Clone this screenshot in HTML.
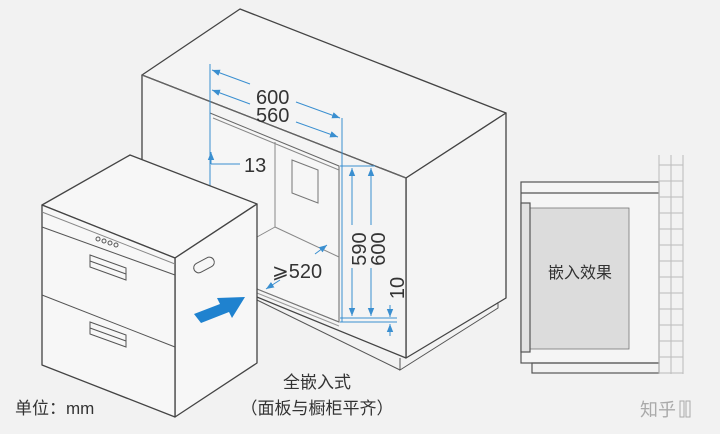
<!DOCTYPE html>
<html><head><meta charset="utf-8"><style>
html,body{margin:0;padding:0;background:#f2f2f2;}
svg{display:block;}
text{font-family:"Liberation Sans","Noto Sans CJK SC",sans-serif;}
</style></head><body>
<svg width="720" height="434" viewBox="0 0 720 434" xmlns="http://www.w3.org/2000/svg">
<rect width="720" height="434" fill="#f2f2f2"/>
<defs>
<marker id="ar" viewBox="0 0 10 10" refX="10" refY="5" markerWidth="8" markerHeight="8" orient="auto-start-reverse"><path d="M0,1 L10,5 L0,9 z" fill="#3a8fd0"/></marker>
</defs>
<g fill="#f4f4f4" stroke="#444" stroke-width="1.3" stroke-linejoin="round">
<polygon points="142,75 240,9 506,113 406,178"/>
<polygon points="406,178 506,113 506,298 406,358"/>
<polygon points="142,75 406,178 406,358 142,250"/>
</g>
<g fill="none" stroke="#555" stroke-width="1">
<polyline points="498,302 498,308 400,370 400,358"/>
<line x1="257" y1="300" x2="400" y2="370"/>
<line x1="142" y1="75" x2="406" y2="178" stroke="#666"/>
<polygon points="210,113 339,166 339,322 210,270" fill="#f6f6f6" stroke="#666"/>
<line x1="213" y1="118" x2="339" y2="170" stroke="#888"/>
<line x1="275" y1="142" x2="275" y2="227" stroke="#888"/>
<line x1="275" y1="227" x2="339" y2="257" stroke="#888"/>
<line x1="275" y1="227" x2="257" y2="237" stroke="#888"/>
<polygon points="292,160 318,170 318,203 292,193" stroke="#777"/>
<line x1="257" y1="289" x2="339" y2="322" stroke="#777"/>
<line x1="257" y1="293" x2="339" y2="326" stroke="#999"/>
</g>
<g stroke="#3a8fd0" stroke-width="1" fill="none">
<line x1="210" y1="64" x2="210" y2="185"/>
<line x1="342" y1="118" x2="342" y2="322"/>
<line x1="340" y1="166" x2="375" y2="166"/>
<line x1="340" y1="318" x2="397" y2="318"/>
<line x1="340" y1="322" x2="397" y2="322"/>
<line x1="212" y1="70" x2="250" y2="84" marker-start="url(#ar)"/>
<line x1="296" y1="102" x2="340" y2="118" marker-end="url(#ar)"/>
<line x1="212" y1="90" x2="250" y2="104" marker-start="url(#ar)"/>
<line x1="296" y1="122" x2="338" y2="137" marker-end="url(#ar)"/>
<line x1="211" y1="152" x2="211" y2="164" marker-start="url(#ar)"/>
<line x1="211" y1="164" x2="240" y2="164"/>
<line x1="352" y1="168" x2="352" y2="225" marker-start="url(#ar)"/>
<line x1="352" y1="268" x2="352" y2="316" marker-end="url(#ar)"/>
<line x1="371" y1="168" x2="371" y2="225" marker-start="url(#ar)"/>
<line x1="371" y1="268" x2="371" y2="316" marker-end="url(#ar)"/>
<line x1="390" y1="305" x2="390" y2="317" marker-end="url(#ar)"/>
<line x1="390" y1="336" x2="390" y2="324" marker-end="url(#ar)"/>
<line x1="266" y1="289" x2="280" y2="280" marker-start="url(#ar)"/>
<line x1="315" y1="254" x2="327" y2="245" marker-end="url(#ar)"/>
</g>
<g fill="#333" font-size="20">
<text x="256" y="104">600</text>
<text x="256" y="122">560</text>
<text x="244" y="172">13</text>
<text x="272" y="278">⩾520</text>
<text transform="translate(366,249) rotate(-90)" text-anchor="middle">590</text>
<text transform="translate(385,249) rotate(-90)" text-anchor="middle">600</text>
<text transform="translate(404,288) rotate(-90)" text-anchor="middle">10</text>
</g>
<g fill="#f7f7f7" stroke="#444" stroke-width="1.3" stroke-linejoin="round">
<polygon points="42,205 130,155 257,204 175,258"/>
<polygon points="175,258 257,204 257,363 175,417"/>
<polygon points="42,205 175,258 175,417 42,365"/>
</g>
<g fill="none" stroke="#555" stroke-width="1">
<line x1="42" y1="227" x2="175" y2="275"/>
<line x1="42" y1="295" x2="175" y2="347"/>
<line x1="42" y1="212" x2="175" y2="264" stroke="#888"/>
<polygon points="90,255 126,268 126,280 90,267"/>
<line x1="90" y1="261" x2="126" y2="274"/>
<polygon points="90,322 126,335 126,347 90,334"/>
<line x1="90" y1="328" x2="126" y2="341"/>
<rect x="193" y="260" width="22" height="10" rx="5" transform="rotate(-28 204 265)"/>
<circle cx="98" cy="239" r="2"/><circle cx="104" cy="241" r="2"/><circle cx="110" cy="243" r="2"/><circle cx="116" cy="245" r="2"/>
</g>
<polygon points="194,314 220,304 217,298 245,297 232,318 229,312 201,323" fill="#1f82cf"/>
<g stroke="#555" stroke-width="1.2" fill="none">
<rect x="521" y="182" width="138" height="181" fill="#f5f5f5"/>
<line x1="521" y1="193" x2="659" y2="193"/>
<rect x="530" y="208" width="99" height="141" fill="#dcdcdc" stroke="#777" stroke-width="0.8"/>
<rect x="521" y="203" width="9" height="149" fill="#e2e2e2"/>
<rect x="532" y="363" width="127" height="10"/>
</g>
<g stroke="#bbb" stroke-width="1" fill="none">
<line x1="659" y1="155" x2="659" y2="374"/>
<line x1="671" y1="155" x2="671" y2="374"/>
<line x1="683" y1="155" x2="683" y2="374"/>
<path d="M659,165h24M659,181h24M659,197h24M659,213h24M659,229h24M659,245h24M659,261h24M659,277h24M659,293h24M659,309h24M659,325h24M659,341h24M659,357h24M659,373h24"/>
</g>
<text x="580" y="278" font-size="16" fill="#333" text-anchor="middle">嵌入效果</text>
<text x="317" y="388" font-size="17" fill="#333" text-anchor="middle">全嵌入式</text>
<text x="317" y="414" font-size="17" fill="#333" text-anchor="middle">（面板与橱柜平齐）</text>
<text x="15" y="414" font-size="17" fill="#333">单位：mm</text>
<text x="640" y="416" font-size="18" fill="#aaa">知乎</text>
<rect x="680" y="401" width="4" height="16" fill="none" stroke="#aaa"/>
<rect x="686" y="401" width="4" height="16" fill="none" stroke="#aaa"/>
</svg>
</body></html>
